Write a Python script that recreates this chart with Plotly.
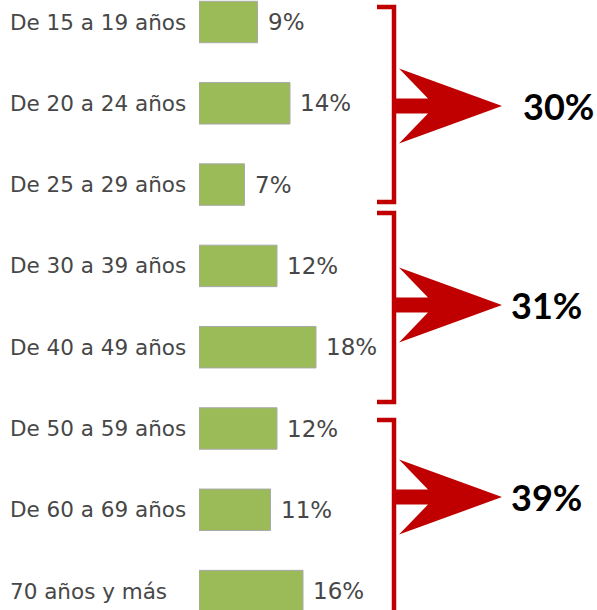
import plotly.graph_objects as go

# ---- data ----
categories = ["De 15 a 19 años", "De 20 a 24 años", "De 25 a 29 años",
              "De 30 a 39 años", "De 40 a 49 años", "De 50 a 59 años",
              "De 60 a 69 años", "70 años y más"]
values = [9, 14, 7, 12, 18, 12, 11, 16]
value_labels = ["9%", "14%", "7%", "12%", "18%", "12%", "11%", "16%"]

group_labels = ["30%", "31%", "39%"]
# bracket extents (in category-index units) and arrow centre for each group
group_top = [-0.185, 2.349, 4.895]
group_bottom = [2.214, 4.674, 7.6]
group_mid = [1.033, 3.481, 5.843]

W, H = 597, 610
RED = "#C00000"
GRAY = "#474747"

idx = list(range(len(categories)))

fig = go.Figure()
fig.add_trace(go.Bar(
    x=values, y=idx, orientation="h",
    marker=dict(color="#9BBB59", line=dict(color="#A9A9A9", width=1)),
    hoverinfo="skip",
))

def px(x):
    return x / W

annotations = []
for i, (c, v, lab) in enumerate(zip(categories, values, value_labels)):
    annotations.append(dict(
        x=px(8), xref="paper", y=i, yref="y", text=c, showarrow=False,
        xanchor="left", yanchor="middle",
        font=dict(family="DejaVu Sans", size=21.5, color=GRAY)))
    annotations.append(dict(
        x=v, xref="x", y=i, yref="y", text=lab, showarrow=False,
        xanchor="left", yanchor="middle", xshift=8,
        font=dict(family="DejaVu Sans", size=23, color=GRAY)))

shapes = []
unit = 81.3  # px per category
text_x = [558, 546, 546]
for g, lab in enumerate(group_labels):
    t, b, m = group_top[g], group_bottom[g], group_mid[g]
    # bracket
    shapes.append(dict(
        type="path", xref="paper", yref="y",
        path=f"M {px(377)},{t} L {px(394)},{t} L {px(394)},{b} L {px(377)},{b}",
        line=dict(color=RED, width=4.5)))
    # arrow
    hh = 37.5 / unit
    sh = 7.5 / unit
    pts = [(399, m - hh), (502, m), (399, m + hh), (428, m + sh),
           (396, m + sh), (396, m - sh), (428, m - sh)]
    path = "M " + " L ".join(f"{px(x)},{y}" for x, y in pts) + " Z"
    shapes.append(dict(type="path", xref="paper", yref="y", path=path,
                       fillcolor=RED, line=dict(color=RED, width=0)))
    annotations.append(dict(
        x=px(text_x[g]), xref="paper", y=m, yref="y", text=f"<b>{lab}</b>",
        showarrow=False, xanchor="center", yanchor="middle",
        font=dict(family="Lato", size=36, color="black")))

fig.update_layout(
    width=W, height=H,
    margin=dict(l=0, r=0, t=0, b=0),
    paper_bgcolor="white", plot_bgcolor="white",
    showlegend=False,
    bargap=0.49,
    xaxis=dict(domain=[199 / W, 1], range=[0, (W - 199) / 6.5],
               visible=False, fixedrange=True),
    yaxis=dict(range=[(H - 22) / unit, -22 / unit],
               visible=False, fixedrange=True),
    annotations=annotations,
    shapes=shapes,
)

fig.write_html(
    "out.html",
    config={"displayModeBar": False},
    post_script="document.body.style.margin='0';document.body.style.padding='0';",
)
